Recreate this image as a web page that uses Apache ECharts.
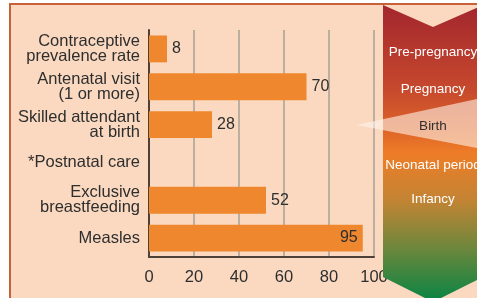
<!DOCTYPE html>
<html>
<head>
<meta charset="utf-8">
<script src="https://cdn.jsdelivr.net/npm/echarts@6/dist/echarts.min.js"></script>
<style>
  html, body { margin: 0; padding: 0; background: #fff; }
  #chart { width: 477px; height: 298px; }
</style>
</head>
<body>
<div id="chart"></div>
<script>
var categories = [
  'Contraceptive\nprevalence rate',
  'Antenatal visit\n(1 or more)',
  'Skilled attendant\nat birth',
  '*Postnatal care',
  'Exclusive\nbreastfeeding',
  'Measles'
];
var coverage = [8, 70, 28, null, 52, 95];
var xTicks = [0, 20, 40, 60, 80, 100];
var stages = ['Pre-pregnancy', 'Pregnancy', 'Birth', 'Neonatal period', 'Infancy'];

var FONT = '"Liberation Sans", Arial, sans-serif';
var stageY = [52, 89, 126, 165, 199];

var chart = echarts.init(document.getElementById('chart'));

var barData = coverage.map(function(v) {
  if (v === null) return '-';
  return {
    value: v,
    label: { position: v > 90 ? 'insideRight' : 'right' }
  };
});

var stageTexts = stages.map(function(name, i) {
  return {
    type: 'text',
    z: 110,
    x: 433,
    y: stageY[i],
    style: {
      text: name,
      fill: name === 'Birth' ? '#2e2e2e' : '#fff',
      font: '13.5px ' + FONT,
      align: 'center',
      verticalAlign: 'middle'
    }
  };
});

var option = {
  backgroundColor: '#fff',
  animation: false,
  grid: { left: 149, top: 30, right: 103, bottom: 41 },
  xAxis: {
    type: 'value',
    min: xTicks[0],
    max: xTicks[xTicks.length - 1],
    interval: xTicks[1] - xTicks[0],
    axisLine: { show: true, lineStyle: { color: '#4d4036', width: 2 } },
    axisTick: { show: false },
    axisLabel: { color: '#2e2e2e', fontSize: 16.5, fontFamily: FONT, margin: 12 },
    splitLine: { show: true, lineStyle: { color: '#a9a096', width: 1.5 } }
  },
  yAxis: {
    type: 'category',
    inverse: true,
    data: categories,
    axisLine: { show: true, lineStyle: { color: '#4d4036', width: 2 } },
    axisTick: { show: false },
    axisLabel: { color: '#2e2e2e', fontSize: 16.5, lineHeight: 15, fontFamily: FONT, margin: 9, align: 'right' }
  },
  series: [{
    type: 'bar',
    data: barData,
    barCategoryGap: '29%',
    itemStyle: { color: '#ee872d' },
    label: {
      show: true,
      color: '#2e2e2e',
      fontSize: 16,
      fontFamily: FONT,
      distance: 5
    }
  }],
  graphic: [
    {
      type: 'rect', z: -10,
      shape: { x: 10, y: 4, width: 470, height: 300 },
      style: { fill: '#fad9c0' }
    },
    {
      type: 'line', z: -5,
      shape: { x1: 10, y1: 3, x2: 10, y2: 298 },
      style: { stroke: '#c8603a', lineWidth: 2 }
    },
    {
      type: 'line', z: -5,
      shape: { x1: 9, y1: 4, x2: 477, y2: 4 },
      style: { stroke: '#c8603a', lineWidth: 2 }
    },
    {
      type: 'polygon', z: 100,
      shape: { points: [[383, 5], [433, 27], [483, 5], [483, 277], [433, 302], [383, 277]] },
      style: {
        fill: new echarts.graphic.LinearGradient(0, 0, 0, 1, [
          { offset: 0, color: '#a3262e' },
          { offset: 0.28, color: '#c6482d' },
          { offset: 0.42, color: '#dd6429' },
          { offset: 0.5, color: '#ee7d27' },
          { offset: 0.66, color: '#c28434' },
          { offset: 0.82, color: '#6c873c' },
          { offset: 1, color: '#078444' }
        ])
      }
    },
    {
      type: 'polygon', z: 105,
      shape: { points: [[356, 125], [477, 99], [477, 148]] },
      style: { fill: 'rgba(255,243,233,0.6)' }
    }
  ].concat(stageTexts)
};

chart.setOption(option);
</script>
</body>
</html>
